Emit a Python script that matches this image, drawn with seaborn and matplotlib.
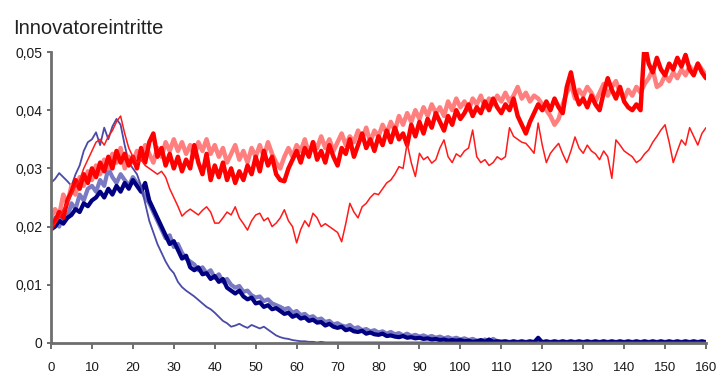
import numpy as np
import pandas as pd
import matplotlib
matplotlib.use("Agg")
import matplotlib.pyplot as plt
import seaborn as sns

title = "Innovatoreintritte"
x_ticks = [0, 10, 20, 30, 40, 50, 60, 70, 80, 90, 100, 110, 120, 130, 140, 150, 160]
y_ticks = [0, 0.01, 0.02, 0.03, 0.04, 0.05]
y_tick_labels = ["0", "0,01", "0,02", "0,03", "0,04", "0,05"]

red_solid = [
    0.0195, 0.0210, 0.0225, 0.0215, 0.0245, 0.0260, 0.0280, 0.0265, 0.0290, 0.0275, 0.0300,
    0.0285, 0.0310, 0.0295, 0.0320, 0.0300, 0.0330, 0.0310, 0.0325, 0.0305, 0.0320,
    0.0300, 0.0335, 0.0310, 0.0345, 0.0360, 0.0320, 0.0335, 0.0305, 0.0325, 0.0300,
    0.0320, 0.0295, 0.0315, 0.0300, 0.0340, 0.0310, 0.0290, 0.0325, 0.0280, 0.0305,
    0.0285, 0.0310, 0.0280, 0.0300, 0.0275, 0.0295, 0.0280, 0.0305, 0.0290, 0.0320,
    0.0295, 0.0330, 0.0305, 0.0320, 0.0290, 0.0280, 0.0278, 0.0300, 0.0315, 0.0330,
    0.0310, 0.0335, 0.0320, 0.0345, 0.0315, 0.0330, 0.0310, 0.0340, 0.0320, 0.0305,
    0.0335, 0.0325, 0.0350, 0.0320, 0.0340, 0.0360, 0.0335, 0.0350, 0.0330, 0.0355,
    0.0340, 0.0365, 0.0345, 0.0370, 0.0350, 0.0360, 0.0340, 0.0375, 0.0355, 0.0380,
    0.0360, 0.0385, 0.0370, 0.0395, 0.0380, 0.0365, 0.0390, 0.0375, 0.0400, 0.0385,
    0.0395, 0.0410, 0.0390, 0.0405, 0.0395, 0.0415, 0.0400, 0.0420, 0.0405, 0.0395,
    0.0410, 0.0400, 0.0420, 0.0390, 0.0375, 0.0360, 0.0380, 0.0395, 0.0410, 0.0400,
    0.0415, 0.0400, 0.0420, 0.0405, 0.0395, 0.0440, 0.0465, 0.0430, 0.0410, 0.0420,
    0.0405, 0.0425, 0.0410, 0.0400, 0.0430, 0.0455, 0.0435, 0.0420, 0.0440, 0.0415,
    0.0405, 0.0400, 0.0410, 0.0400, 0.0515, 0.0480, 0.0465, 0.0490, 0.0470, 0.0460,
    0.0480, 0.0470, 0.0490, 0.0475, 0.0495, 0.0470, 0.0460, 0.0480, 0.0465, 0.0455,
]

red_light = [
    0.0215, 0.0230, 0.0220, 0.0255, 0.0240, 0.0270, 0.0255, 0.0285, 0.0270, 0.0295, 0.0280,
    0.0305, 0.0290, 0.0315, 0.0300, 0.0325, 0.0310, 0.0335, 0.0300, 0.0320, 0.0310,
    0.0330, 0.0315, 0.0340, 0.0325, 0.0310, 0.0335, 0.0320, 0.0345, 0.0330, 0.0350,
    0.0330, 0.0345, 0.0325, 0.0340, 0.0320, 0.0345, 0.0330, 0.0350, 0.0325, 0.0340,
    0.0320, 0.0335, 0.0310, 0.0325, 0.0340, 0.0315, 0.0330, 0.0310, 0.0335, 0.0320,
    0.0340, 0.0320, 0.0345, 0.0325, 0.0310, 0.0300, 0.0320, 0.0335, 0.0320, 0.0340,
    0.0330, 0.0350, 0.0325, 0.0345, 0.0335, 0.0355, 0.0335, 0.0350, 0.0330, 0.0345,
    0.0360, 0.0340, 0.0355, 0.0345, 0.0365, 0.0350, 0.0370, 0.0345, 0.0365, 0.0355,
    0.0375, 0.0360, 0.0380, 0.0365, 0.0390, 0.0375, 0.0395, 0.0380, 0.0400, 0.0385,
    0.0405, 0.0390, 0.0410, 0.0395, 0.0405, 0.0390, 0.0415, 0.0400, 0.0420, 0.0405,
    0.0415, 0.0400, 0.0420, 0.0410, 0.0425, 0.0405, 0.0420, 0.0410, 0.0425, 0.0415,
    0.0430, 0.0415, 0.0425, 0.0440, 0.0420, 0.0430, 0.0415, 0.0425, 0.0420, 0.0410,
    0.0400, 0.0390, 0.0375, 0.0385, 0.0410, 0.0430, 0.0445, 0.0420, 0.0435, 0.0425,
    0.0440, 0.0430, 0.0415, 0.0430, 0.0445, 0.0425, 0.0440, 0.0450, 0.0430, 0.0420,
    0.0435, 0.0425, 0.0440, 0.0430, 0.0445, 0.0455, 0.0470, 0.0440, 0.0445, 0.0460,
    0.0450, 0.0465, 0.0455, 0.0470, 0.0460, 0.0475, 0.0465, 0.0480, 0.0470, 0.0460,
]

red_thin = [
    0.0200, 0.0205, 0.0215, 0.0230, 0.0240, 0.0255, 0.0270, 0.0280, 0.0300, 0.0315, 0.0330,
    0.0345, 0.0350, 0.0340, 0.0355, 0.0365, 0.0380, 0.0390, 0.0360, 0.0335, 0.0320,
    0.0310, 0.0315, 0.0305, 0.0300, 0.0295, 0.0290, 0.0295, 0.0285, 0.0265, 0.0250,
    0.0235, 0.0218, 0.0225, 0.0230, 0.0225, 0.0220, 0.0228, 0.0234, 0.0225, 0.0206,
    0.0206, 0.0215, 0.0225, 0.0220, 0.0234, 0.0215, 0.0205, 0.0194, 0.0210, 0.0220,
    0.0223, 0.0210, 0.0215, 0.0200, 0.0206, 0.0215, 0.0229, 0.0210, 0.0200, 0.0172,
    0.0195, 0.0210, 0.0200, 0.0223, 0.0215, 0.0200, 0.0205, 0.0200, 0.0195, 0.0190,
    0.0174, 0.0205, 0.0240, 0.0225, 0.0215, 0.0234, 0.0240, 0.0250, 0.0257, 0.0255,
    0.0265, 0.0275, 0.0280, 0.0290, 0.0303, 0.0300, 0.0343, 0.0310, 0.0286, 0.0326,
    0.0315, 0.0320, 0.0309, 0.0315, 0.0335, 0.0349, 0.0320, 0.0310, 0.0325, 0.0320,
    0.0330, 0.0335, 0.0366, 0.0320, 0.0310, 0.0315, 0.0305, 0.0310, 0.0320, 0.0315,
    0.0320, 0.0370, 0.0355, 0.0350, 0.0345, 0.0343, 0.0335, 0.0326, 0.0378, 0.0340,
    0.0310, 0.0326, 0.0335, 0.0343, 0.0325, 0.0310, 0.0330, 0.0354, 0.0335, 0.0326,
    0.0340, 0.0330, 0.0325, 0.0315, 0.0330, 0.0320, 0.0283, 0.0349, 0.0340, 0.0330,
    0.0325, 0.0320, 0.0310, 0.0315, 0.0325, 0.0332, 0.0345, 0.0355, 0.0366, 0.0375,
    0.0345, 0.0310, 0.0330, 0.0349, 0.0340, 0.0370, 0.0355, 0.0340, 0.0360, 0.0370,
]

blue_dark = [
    0.0195, 0.0200, 0.0210, 0.0205, 0.0215, 0.0220, 0.0230, 0.0225, 0.0240, 0.0235, 0.0245,
    0.0250, 0.0260, 0.0250, 0.0265, 0.0255, 0.0270, 0.0260, 0.0275, 0.0265, 0.0280,
    0.0270, 0.0260, 0.0275, 0.0245, 0.0230, 0.0215, 0.0200, 0.0185, 0.0170, 0.0175,
    0.0160, 0.0145, 0.0150, 0.0130, 0.0125, 0.0130, 0.0118, 0.0120, 0.0110, 0.0115,
    0.0105, 0.0110, 0.0095, 0.0090, 0.0085, 0.0090, 0.0080, 0.0075, 0.0078, 0.0068,
    0.0070, 0.0062, 0.0065, 0.0058, 0.0060, 0.0055, 0.0050, 0.0052, 0.0045, 0.0048,
    0.0042, 0.0044, 0.0038, 0.0040, 0.0035, 0.0036, 0.0030, 0.0033, 0.0028, 0.0026,
    0.0028, 0.0022, 0.0024, 0.0020, 0.0019, 0.0021, 0.0016, 0.0018, 0.0015, 0.0014,
    0.0016, 0.0012, 0.0013, 0.0011, 0.0010, 0.0012, 0.0009, 0.0010, 0.0008, 0.0009,
    0.0007, 0.0008, 0.0006, 0.0007, 0.0005, 0.0006, 0.0004, 0.0005, 0.0004, 0.0005,
    0.0003, 0.0004, 0.0002, 0.0003, 0.0005, 0.0002, 0.0006, 0.0002, 0.0003, 0.0002,
    0.0003, 0.0001, 0.0003, 0.0001, 0.0003, 0.0001, 0.0003, 0.0001, 0.0009, 0.0001,
    0.0003, 0.0001, 0.0003, 0.0001, 0.0003, 0.0001, 0.0003, 0.0001, 0.0003, 0.0001,
    0.0003, 0.0001, 0.0003, 0.0001, 0.0003, 0.0001, 0.0003, 0.0001, 0.0003, 0.0001,
    0.0003, 0.0001, 0.0003, 0.0001, 0.0003, 0.0001, 0.0003, 0.0001, 0.0003, 0.0001,
    0.0003, 0.0001, 0.0003, 0.0001, 0.0003, 0.0001, 0.0003, 0.0001, 0.0003, 0.0001,
]

blue_light = [
    0.0205, 0.0215, 0.0200, 0.0225, 0.0215, 0.0240, 0.0230, 0.0255, 0.0245, 0.0265, 0.0270,
    0.0260, 0.0280, 0.0270, 0.0300, 0.0285, 0.0275, 0.0290, 0.0280, 0.0270, 0.0285,
    0.0275, 0.0265, 0.0250, 0.0240, 0.0225, 0.0210, 0.0195, 0.0180, 0.0185, 0.0165,
    0.0170, 0.0155, 0.0145, 0.0140, 0.0135, 0.0125, 0.0130, 0.0120, 0.0125, 0.0112,
    0.0118, 0.0105, 0.0110, 0.0100, 0.0095, 0.0098, 0.0088, 0.0090, 0.0082, 0.0078,
    0.0080, 0.0072, 0.0075, 0.0068, 0.0065, 0.0062, 0.0058, 0.0060, 0.0052, 0.0055,
    0.0048, 0.0050, 0.0044, 0.0046, 0.0040, 0.0042, 0.0036, 0.0038, 0.0032, 0.0034,
    0.0030, 0.0028, 0.0031, 0.0025, 0.0027, 0.0022, 0.0024, 0.0020, 0.0022, 0.0018,
    0.0020, 0.0016, 0.0019, 0.0015, 0.0017, 0.0013, 0.0016, 0.0012, 0.0014, 0.0011,
    0.0013, 0.0010, 0.0012, 0.0009, 0.0011, 0.0008, 0.0010, 0.0007, 0.0009, 0.0006,
    0.0008, 0.0005, 0.0007, 0.0004, 0.0003, 0.0006, 0.0002, 0.0007, 0.0003, 0.0002,
    0.0002, 0.0002, 0.0002, 0.0002, 0.0002, 0.0002, 0.0002, 0.0002, 0.0002, 0.0002,
    0.0002, 0.0002, 0.0002, 0.0002, 0.0002, 0.0002, 0.0002, 0.0002, 0.0002, 0.0002,
    0.0002, 0.0002, 0.0002, 0.0002, 0.0002, 0.0002, 0.0002, 0.0002, 0.0002, 0.0002,
    0.0002, 0.0002, 0.0002, 0.0002, 0.0002, 0.0002, 0.0002, 0.0002, 0.0002, 0.0002,
    0.0002, 0.0002, 0.0002, 0.0002, 0.0002, 0.0002, 0.0002, 0.0002, 0.0002, 0.0002,
]

blue_thin = [
    0.0275, 0.0282, 0.0292, 0.0285, 0.0278, 0.0270, 0.0290, 0.0305, 0.0330, 0.0345, 0.0350,
    0.0362, 0.0340, 0.0370, 0.0350, 0.0372, 0.0385, 0.0375, 0.0340, 0.0310, 0.0300,
    0.0290, 0.0270, 0.0240, 0.0210, 0.0190, 0.0170, 0.0155, 0.0140, 0.0128, 0.0120,
    0.0105, 0.0096, 0.0090, 0.0085, 0.0080, 0.0074, 0.0068, 0.0062, 0.0058, 0.0052,
    0.0045, 0.0038, 0.0034, 0.0028, 0.0030, 0.0033, 0.0029, 0.0026, 0.0031, 0.0028,
    0.0025, 0.0028, 0.0023, 0.0018, 0.0013, 0.0010, 0.0008, 0.0007, 0.0005, 0.0004,
    0.0003, 0.0003, 0.0002, 0.0002, 0.0001, 0.0002, 0.0001, 0.0001, 0.0001, 0.0001,
    0.0001, 0.0001, 0.0001, 0.0001, 0.0001, 0.0001, 0.0001, 0.0001, 0.0001, 0.0001,
    0.0001, 0.0001, 0.0001, 0.0001, 0.0001, 0.0001, 0.0001, 0.0001, 0.0001, 0.0001,
    0.0001, 0.0001, 0.0001, 0.0001, 0.0001, 0.0001, 0.0001, 0.0001, 0.0001, 0.0001,
    0.0001, 0.0001, 0.0001, 0.0001, 0.0001, 0.0001, 0.0001, 0.0001, 0.0001, 0.0001,
    0.0001, 0.0001, 0.0001, 0.0001, 0.0001, 0.0001, 0.0001, 0.0001, 0.0001, 0.0001,
    0.0001, 0.0001, 0.0001, 0.0001, 0.0001, 0.0001, 0.0001, 0.0001, 0.0001, 0.0001,
    0.0001, 0.0001, 0.0001, 0.0001, 0.0001, 0.0001, 0.0001, 0.0001, 0.0001, 0.0001,
    0.0001, 0.0001, 0.0001, 0.0001, 0.0001, 0.0001, 0.0001, 0.0001, 0.0001, 0.0001,
    0.0001, 0.0001, 0.0001, 0.0001, 0.0001, 0.0001, 0.0001, 0.0001, 0.0001, 0.0001,
]

series = [
    ("blue_light", blue_light, "#7a7ac4", 3.0),
    ("blue_dark", blue_dark, "#000080", 3.0),
    ("blue_thin", blue_thin, "#4a4aa8", 1.3),
    ("red_light", red_light, "#ff7f7f", 3.2),
    ("red_solid", red_solid, "#ff0000", 3.2),
    ("red_thin", red_thin, "#ff1a1a", 1.1),
]

sns.set_style("ticks")
plt.rcParams["font.family"] = ["Liberation Sans", "DejaVu Sans"]

fig = plt.figure(figsize=(7.2, 3.76), dpi=100)
ax = fig.add_axes([51 / 720, 33 / 376, 655 / 720, 291 / 376])

for name, vals, color, lw in series:
    df = pd.DataFrame({"t": np.arange(len(vals)), "v": vals})
    sns.lineplot(data=df, x="t", y="v", ax=ax, color=color, linewidth=lw)

ax.set_xlim(0, 160)
ax.set_ylim(0, 0.05)
ax.set_xticks(x_ticks)
ax.set_xticklabels([str(v) for v in x_ticks])
ax.set_yticks(y_ticks)
ax.set_yticklabels(y_tick_labels)
ax.set_xlabel("")
ax.set_ylabel("")
for s in ["top", "right"]:
    ax.spines[s].set_visible(False)
for s in ["left", "bottom"]:
    ax.spines[s].set_color("#6e6e6e")
    ax.spines[s].set_linewidth(2.0)
ax.tick_params(axis="x", direction="out", length=4, width=1.4, color="#6e6e6e",
               labelsize=9.5, pad=10, labelcolor="#1a1a1a")
ax.tick_params(axis="y", direction="out", length=3, width=1.4, color="#6e6e6e",
               labelsize=10, pad=3, labelcolor="#1a1a1a")

fig.text(13 / 720, 1 - 29 / 376, title, fontsize=14.5, color="#222222",
         ha="left", va="center")

fig.savefig("out.png", dpi=100)
